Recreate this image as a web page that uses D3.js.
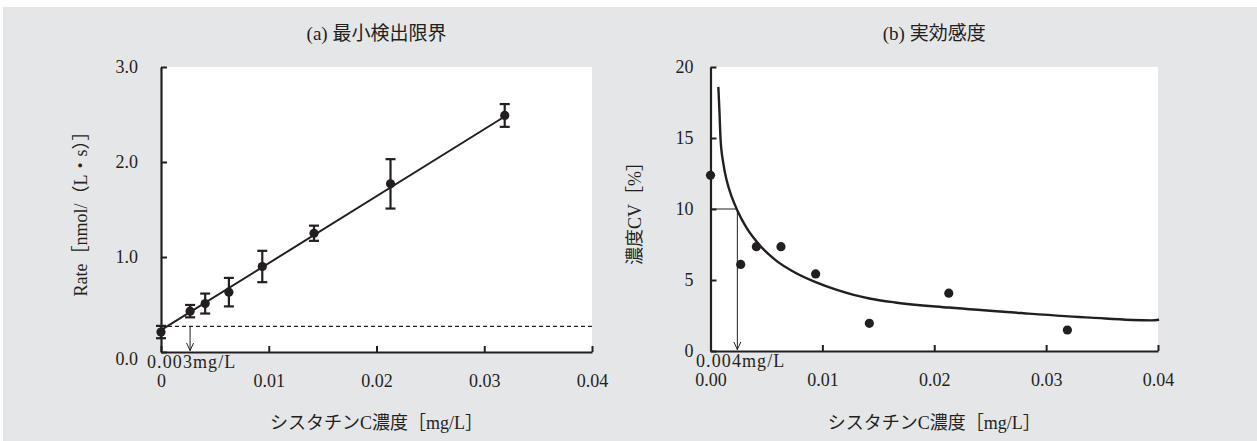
<!DOCTYPE html>
<html><head><meta charset="utf-8">
<script src="https://cdn.jsdelivr.net/npm/d3@7"></script>
<style>
html,body{margin:0;padding:0;background:#fff;}
svg{display:block;}
text{font-family:"Liberation Serif","Noto Sans CJK JP",serif;fill:#231f20;}
</style></head><body>
<svg id="chart" width="1257" height="441"></svg>
<script>
// Cystatin C assay: (a) limit of detection, (b) functional sensitivity

// Shared concentration levels [mg/L]
const concentrations = [0, 0.0027, 0.0041, 0.0063, 0.0094, 0.0142, 0.0213, 0.0319];

// (a) reaction rate, mean and SD [nmol/(L·s)]
const rateMean = [0.21, 0.43, 0.51, 0.63, 0.90, 1.25, 1.77, 2.49];
const rateSD   = [0.065, 0.065, 0.105, 0.15, 0.165, 0.08, 0.26, 0.12];
const rateFitCoef = [0.23, 70.5];          // intercept, slope
const rateFitRange = [0, 0.0319];
const blankLimitRate = 0.27;               // blank mean + 2SD
const detectionLimitConc = 0.0027;

// (b) concentration CV [%] and precision profile
const cvValues = [12.37, 6.1, 7.35, 7.35, 5.43, 1.95, 4.07, 1.48];
const cvCurveConc  = [0.0007, 0.0008, 0.0009, 0.00115, 0.00145, 0.0019, 0.0024, 0.0032, 0.0044, 0.0059, 0.0075, 0.0094, 0.0113, 0.0128, 0.0142, 0.0165, 0.0213, 0.028, 0.034, 0.0394, 0.0401];
const cvCurveValue = [18.6, 16.9, 14.9, 13.2, 12.0, 10.85, 9.9, 8.7, 7.45, 6.35, 5.55, 4.85, 4.3, 3.95, 3.7, 3.42, 3.06, 2.66, 2.35, 2.16, 2.2];
const cvTarget = 10;
const functionalSensitivityConc = 0.0024;

// Axis ticks
const xTickValues = [0, 0.01, 0.02, 0.03, 0.04];
const xTickLabelsA = ["0", "0.01", "0.02", "0.03", "0.04"];
const xTickLabelsB = ["0.00", "0.01", "0.02", "0.03", "0.04"];
const yTickValuesA = [0, 1, 2, 3];
const yTickLabelsA = ["0.0", "1.0", "2.0", "3.0"];
const yTickValuesB = [0, 5, 10, 15, 20];
const yTickLabelsB = ["0", "5", "10", "15", "20"];

// Texts
const titleA = "(a) 最小検出限界";
const titleB = "(b) 実効感度";
const xTitle = "シスタチンC濃度［mg/L］";
const yTitleA = "Rate［nmol/（L・s）］";
const yTitleB = "濃度CV［%］";
const lodLabelA = "0.003mg/L";
const lodLabelB = "0.004mg/L";

const ink = "#231f20";
const svg = d3.select("#chart");

svg.append("rect").attr("x", 3).attr("y", 7).attr("width", 1254).attr("height", 434).attr("fill", "#e5e6e8");

function panel(cfg) {
  const x = d3.scaleLinear().domain([0, 0.04]).range([cfg.left, cfg.right]);
  const y = d3.scaleLinear().domain(cfg.yDomain).range([cfg.bottom, cfg.top]);
  const g = svg.append("g");

  g.append("rect").attr("x", cfg.left).attr("y", cfg.top)
    .attr("width", cfg.right - cfg.left).attr("height", cfg.bottom - cfg.top).attr("fill", "#fff");

  const xAxis = d3.axisBottom(x).tickValues(xTickValues)
    .tickFormat((d, i) => cfg.xLabels[i]).tickSizeInner(-6).tickSizeOuter(0).tickPadding(22);
  const gx = g.append("g").attr("transform", `translate(0,${cfg.bottom})`).call(xAxis);

  const yAxis = d3.axisLeft(y).tickValues(cfg.yTicks)
    .tickFormat((d, i) => cfg.yLabels[i]).tickSizeInner(-6).tickSizeOuter(0).tickPadding(cfg.yPad);
  const gy = g.append("g").attr("transform", `translate(${cfg.left},0)`).call(yAxis);

  [gx, gy].forEach(a => {
    a.select(".domain").attr("stroke", ink).attr("stroke-width", 2.2);
    a.selectAll(".tick line").attr("stroke", ink).attr("stroke-width", 2);
    a.selectAll(".tick text").attr("font-size", 18).attr("fill", ink);
  });
  if (cfg.nudgeZero) gy.selectAll(".tick text").filter(d => d === 0).attr("dy", "0.7em");

  svg.append("text").attr("x", (cfg.left + cfg.right) / 2).attr("y", 40)
    .attr("text-anchor", "middle").attr("font-size", 19).text(cfg.title);
  svg.append("text").attr("x", (cfg.left + cfg.right) / 2).attr("y", 429)
    .attr("text-anchor", "middle").attr("font-size", 18).text(xTitle);
  svg.append("text").attr("transform", `translate(${cfg.yTitleX},${(cfg.top + cfg.bottom) / 2}) rotate(-90)`)
    .attr("text-anchor", "middle").attr("font-size", 18).text(cfg.yTitle);

  return {g, x, y};
}

function arrowDown(g, px, y1, y2) {
  g.append("line").attr("x1", px).attr("x2", px).attr("y1", y1).attr("y2", y2)
    .attr("stroke", ink).attr("stroke-width", 1);
  g.append("path").attr("d", `M${px - 3.5},${y2 - 8}L${px},${y2 - 0.5}L${px + 3.5},${y2 - 8}`)
    .attr("fill", "none").attr("stroke", ink).attr("stroke-width", 1);
}

// ---- (a) limit of detection ----
const A = panel({left: 161, right: 592, top: 67, bottom: 352, yDomain: [0, 3],
  xLabels: xTickLabelsA, yTicks: yTickValuesA, yLabels: yTickLabelsA, yPad: 23, nudgeZero: true,
  title: titleA, yTitle: yTitleA, yTitleX: 87});

A.g.append("line")
  .attr("x1", A.x(0)).attr("x2", A.x(0.04))
  .attr("y1", A.y(blankLimitRate)).attr("y2", A.y(blankLimitRate))
  .attr("stroke", ink).attr("stroke-width", 1.1).attr("stroke-dasharray", "4,3");

arrowDown(A.g, A.x(detectionLimitConc), A.y(blankLimitRate), A.y(0) - 1);

A.g.append("line")
  .attr("x1", A.x(rateFitRange[0])).attr("y1", A.y(rateFitCoef[0] + rateFitCoef[1] * rateFitRange[0]))
  .attr("x2", A.x(rateFitRange[1])).attr("y2", A.y(rateFitCoef[0] + rateFitCoef[1] * rateFitRange[1]))
  .attr("stroke", ink).attr("stroke-width", 2);

const rows = concentrations.map((c, i) => ({c, m: rateMean[i], s: rateSD[i]}));
const eb = A.g.selectAll(".eb").data(rows).enter().append("g");
eb.append("line").attr("x1", d => A.x(d.c)).attr("x2", d => A.x(d.c))
  .attr("y1", d => A.y(d.m - d.s)).attr("y2", d => A.y(d.m + d.s)).attr("stroke", ink).attr("stroke-width", 2.2);
[-1, 1].forEach(k => {
  eb.append("line").attr("x1", d => A.x(d.c) - 5).attr("x2", d => A.x(d.c) + 5)
    .attr("y1", d => A.y(d.m + k * d.s)).attr("y2", d => A.y(d.m + k * d.s))
    .attr("stroke", ink).attr("stroke-width", 2.2);
});
eb.append("circle").attr("cx", d => A.x(d.c)).attr("cy", d => A.y(d.m)).attr("r", 4.6).attr("fill", ink);

A.g.append("text").attr("x", 147).attr("y", 368).attr("font-size", 18)
  .attr("letter-spacing", 1.1).text(lodLabelA);

// ---- (b) functional sensitivity ----
const B = panel({left: 710.5, right: 1158, top: 67, bottom: 351, yDomain: [0, 20],
  xLabels: xTickLabelsB, yTicks: yTickValuesB, yLabels: yTickLabelsB, yPad: 17, nudgeZero: false,
  title: titleB, yTitle: yTitleB, yTitleX: 641});

B.g.append("line")
  .attr("x1", B.x(0)).attr("x2", B.x(functionalSensitivityConc))
  .attr("y1", B.y(cvTarget)).attr("y2", B.y(cvTarget))
  .attr("stroke", ink).attr("stroke-width", 1);
arrowDown(B.g, B.x(functionalSensitivityConc), B.y(cvTarget), B.y(0) - 1);

const curve = cvCurveConc.map((c, i) => [c, cvCurveValue[i]]);
B.g.append("path").datum(curve)
  .attr("d", d3.line().x(d => B.x(d[0])).y(d => B.y(d[1])).curve(d3.curveMonotoneX))
  .attr("fill", "none").attr("stroke", ink).attr("stroke-width", 2.4);

B.g.selectAll(".cv").data(concentrations.map((c, i) => [c, cvValues[i]])).enter().append("circle")
  .attr("cx", d => B.x(d[0])).attr("cy", d => B.y(d[1])).attr("r", 4.6).attr("fill", ink);

B.g.append("text").attr("x", 696).attr("y", 367).attr("font-size", 18)
  .attr("letter-spacing", 1.1).text(lodLabelB);
</script>
</body></html>
